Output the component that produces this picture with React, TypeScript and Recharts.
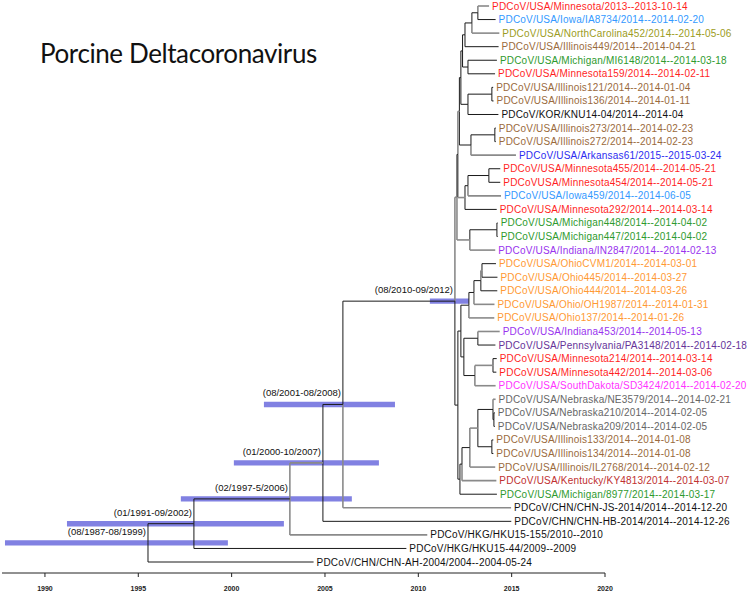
import { ComposedChart, XAxis, YAxis, ReferenceLine, ReferenceArea, Scatter } from 'recharts'

// tips, top to bottom
const leafNames = [
  'PDCoV/USA/Minnesota/2013--2013-10-14',
  'PDCoV/USA/Iowa/IA8734/2014--2014-02-20',
  'PDCoV/USA/NorthCarolina452/2014--2014-05-06',
  'PDCoV/USA/Illinois449/2014--2014-04-21',
  'PDCoV/USA/Michigan/MI6148/2014--2014-03-18',
  'PDCoV/USA/Minnesota159/2014--2014-02-11',
  'PDCoV/USA/Illinois121/2014--2014-01-04',
  'PDCoV/USA/Illinois136/2014--2014-01-11',
  'PDCoV/KOR/KNU14-04/2014--2014-04',
  'PDCoV/USA/Illinois273/2014--2014-02-23',
  'PDCoV/USA/Illinois272/2014--2014-02-23',
  'PDCoV/USA/Arkansas61/2015--2015-03-24',
  'PDCoV/USA/Minnesota455/2014--2014-05-21',
  'PDCoVUSA/Minnesota454/2014--2014-05-21',
  'PDCoV/USA/Iowa459/2014--2014-06-05',
  'PDCoV/USA/Minnesota292/2014--2014-03-14',
  'PDCoV/USA/Michigan448/2014--2014-04-02',
  'PDCoV/USA/Michigan447/2014--2014-04-02',
  'PDCoV/USA/Indiana/IN2847/2014--2014-02-13',
  'PDCoV/USA/OhioCVM1/2014--2014-03-01',
  'PDCoV/USA/Ohio445/2014--2014-03-27',
  'PDCoV/USA/Ohio444/2014--2014-03-26',
  'PDCoV/USA/Ohio/OH1987/2014--2014-01-31',
  'PDCoV/USA/Ohio137/2014--2014-01-26',
  'PDCoV/USA/Indiana453/2014--2014-05-13',
  'PDCoV/USA/Pennsylvania/PA3148/2014--2014-02-18',
  'PDCoV/USA/Minnesota214/2014--2014-03-14',
  'PDCoV/USA/Minnesota442/2014--2014-03-06',
  'PDCoV/USA/SouthDakota/SD3424/2014--2014-02-20',
  'PDCoV/USA/Nebraska/NE3579/2014--2014-02-21',
  'PDCoV/USA/Nebraska210/2014--2014-02-05',
  'PDCoV/USA/Nebraska209/2014--2014-02-05',
  'PDCoV/USA/Illinois133/2014--2014-01-08',
  'PDCoV/USA/Illinois134/2014--2014-01-08',
  'PDCoV/USA/Illinois/IL2768/2014--2014-02-12',
  'PDCoV/USA/Kentucky/KY4813/2014--2014-03-07',
  'PDCoV/USA/Michigan/8977/2014--2014-03-17',
  'PDCoV/CHN/CHN-JS-2014/2014--2014-12-20',
  'PDCoV/CHN/CHN-HB-2014/2014--2014-12-26',
  'PDCoV/HKG/HKU15-155/2010--2010',
  'PDCoV/HKG/HKU15-44/2009--2009',
  'PDCoV/CHN/CHN-AH-2004/2004--2004-05-24',
]

const leafDates = [
  2013.79, 2014.14, 2014.34, 2014.3, 2014.21, 2014.11, 2014.01, 2014.03, 2014.29, 2014.15,
  2014.15, 2015.23, 2014.39, 2014.39, 2014.43, 2014.2, 2014.25, 2014.25, 2014.12, 2014.16,
  2014.24, 2014.23, 2014.08, 2014.07, 2014.36, 2014.13, 2014.2, 2014.18, 2014.14, 2014.14,
  2014.1, 2014.1, 2014.02, 2014.02, 2014.12, 2014.18, 2014.21, 2014.97, 2014.98, 2010.48,
  2009.36, 2004.39,
]

// internal nodes, children listed before parents (numbers = tip index)
const nodeIds = [
  'nA', 'nB', 'nC', 'nD', 'nE', 'nF1', 'nG', 'nH', 'nI', 'nJ', 'nH3', 'nK', 'nL', 'nM', 'nX', 'nO', 'nP', 'nUup',
  'nQ', 'nR', 'nS', 'nT', 'nU', 'nV', 'nW', 'nXX', 'nY', 'nZ1', 'nZ2', 'nZ3', 'nZ4', 'nZ5', 'nZ6', 'nZ7', 'nUlow',
  'nF', 'nE0', 'nD0', 'nC0', 'nB0', 'root',
]
const nodeChildren: (string | number)[][] = [
  [0, 1], ['nA', 2], ['nB', 3], [4, 5], ['nC', 'nD'], [6, 7], ['nF1', 8], ['nE', 'nG'], [9, 10], ['nI', 11],
  ['nH', 'nJ'], [12, 13], ['nK', 14], ['nL', 15], ['nH3', 'nM'], [16, 17], ['nO', 18], ['nX', 'nP'],
  [19, 20], ['nQ', 21], ['nR', 22], ['nS', 23], [24, 25], [26, 27], ['nV', 28], ['nU', 'nW'], ['nT', 'nXX'],
  [30, 31], [29, 'nZ1'], [32, 33], ['nZ2', 'nZ3'], ['nZ4', 34], ['nZ5', 35], ['nZ6', 36], ['nY', 'nZ7'],
  ['nUup', 'nUlow'], ['nF', 37], ['nE0', 38], ['nD0', 39], ['nC0', 40], ['nB0', 41],
]
const nodeDates = [
  2013.19, 2012.87, 2012.5, 2012.66, 2012.37, 2013.94, 2012.66, 2012.28, 2014.1, 2012.82, 2012.2, 2013.78,
  2012.66, 2012.5, 2012.12, 2014.21, 2012.76, 2012.07,
  2013.41, 2013.35, 2012.98, 2012.71, 2013.19, 2014.0, 2013.03, 2012.44, 2012.28, 2014.05, 2014.0, 2013.94,
  2013.19, 2012.76, 2012.34, 2012.23, 2012.12,
  2011.96, 2005.96, 2004.89, 2003.12, 1997.98, 1995.52,
]

// 95% HPD of node heights
const hpdNodes = ['root', 'nB0', 'nC0', 'nD0', 'nE0', 'nF']
const hpdLabels = ['(08/1987-08/1999)', '(01/1991-09/2002)', '(02/1997-5/2006)', '(01/2000-10/2007)', '(08/2001-08/2008)', '(08/2010-09/2012)']
const hpdLow = [1987.86, 1991.18, 1997.28, 2000.12, 2001.73, 2010.62]
const hpdHigh = [1999.8, 2002.8, 2006.44, 2007.89, 2008.75, 2012.71]

const grayBranches = ['nD0', 'nUup', 'nH3', 'nM', 'nP', 'nZ4', 'nQ', 'nV', 0, 2, 11, 14, 18, 22, 23, 24, 28, 29, 34, 35, 37, 39]

const yearTicks = [1990, 1995, 2000, 2005, 2010, 2015, 2020]

const stateColors: Record<string, string> = {
  NorthCarolina: '#9c9c22',
  SouthDakota: '#ff33ff',
  Pennsylvania: '#663399',
  Minnesota: '#ff1f1f',
  Iowa: '#3399ff',
  Illinois: '#9a6a3c',
  Michigan: '#2e9a2e',
  Arkansas: '#2c2cf0',
  Indiana: '#9933ee',
  Ohio: '#ff9933',
  Nebraska: '#666666',
  Kentucky: '#c03030',
}

const colorOf = (name: string) => {
  const key = Object.keys(stateColors).find((k) => name.includes(k))
  return key ? stateColors[key] : '#111111'
}

// positions of every node: x = date, y = tip order
const pos: Record<string, { x: number; y: number }> = {}
leafDates.forEach((d, i) => (pos[String(i)] = { x: d, y: i }))
nodeIds.forEach((id, i) => {
  const kids = nodeChildren[i].map((c) => pos[String(c)])
  pos[id] = { x: nodeDates[i], y: (kids[0].y + kids[kids.length - 1].y) / 2 }
})

const branches: { x1: number; y1: number; x2: number; y2: number; gray: boolean }[] = []
nodeIds.forEach((id, i) => {
  const p = pos[id]
  nodeChildren[i].forEach((c) => {
    const k = pos[String(c)]
    const gray = grayBranches.includes(c)
    branches.push({ x1: p.x, y1: p.y, x2: p.x, y2: k.y, gray })
    branches.push({ x1: p.x, y1: k.y, x2: k.x, y2: k.y, gray })
  })
})

const tipPoints = leafNames.map((name, i) => ({ x: leafDates[i], y: i, name }))
const hpdPoints = hpdNodes.map((id, i) => ({ x: pos[id].x, y: pos[id].y, label: hpdLabels[i] }))

const TipLabel = (p: any) => (
  <text x={p.cx + 3} y={p.cy} dy="0.35em" fontSize={10} letterSpacing={0.2} fill={colorOf(p.payload.name)}>
    {p.payload.name}
  </text>
)

const NodeLabel = (p: any) => (
  <text x={p.cx - 2} y={p.cy - 8} textAnchor="end" fontSize={9.5} fill="#111">
    {p.payload.label}
  </text>
)

const App = () => {
  return (
    <div style={{ position: 'absolute', left: 0, top: 0, fontFamily: '"Liberation Sans", Arial, sans-serif' }}>
      <ComposedChart width={750} height={601} margin={{ top: 6, right: 145, bottom: 0, left: 2 }}>
        <XAxis
          type="number"
          dataKey="x"
          domain={[1987.7, 2020]}
          ticks={yearTicks}
          height={28}
          tickSize={4}
          tickMargin={9}
          stroke="#222"
          tick={{ fontSize: 7, fontWeight: 'bold', fill: '#222' }}
        />
        <YAxis type="number" dataKey="y" domain={[0, 41.81]} reversed hide />
        {branches.map((b, i) => (
          <ReferenceLine
            key={'b' + i}
            segment={[{ x: b.x1, y: b.y1 }, { x: b.x2, y: b.y2 }]}
            stroke={b.gray ? '#8a8a8a' : '#1a1a1a'}
            strokeWidth={b.gray ? 1.6 : 1}
            ifOverflow="visible"
          />
        ))}
        {hpdNodes.map((id, i) => (
          <ReferenceArea
            key={'h' + i}
            x1={hpdLow[i]}
            x2={hpdHigh[i]}
            y1={pos[id].y - 0.2}
            y2={pos[id].y + 0.2}
            fill="#4b4bd6"
            fillOpacity={0.7}
            stroke="none"
            ifOverflow="visible"
          />
        ))}
        <Scatter data={tipPoints} dataKey="y" shape={TipLabel} isAnimationActive={false} />
        <Scatter data={hpdPoints} dataKey="y" shape={NodeLabel} isAnimationActive={false} />
      </ComposedChart>
      <svg width={400} height={80} style={{ position: 'absolute', left: 0, top: 0 }}>
        <text x={40} y={63} fontSize={26} letterSpacing={-0.4} fontFamily="Lato, sans-serif" fill="#111">
          Porcine Deltacoronavirus
        </text>
      </svg>
    </div>
  )
}

export default App
